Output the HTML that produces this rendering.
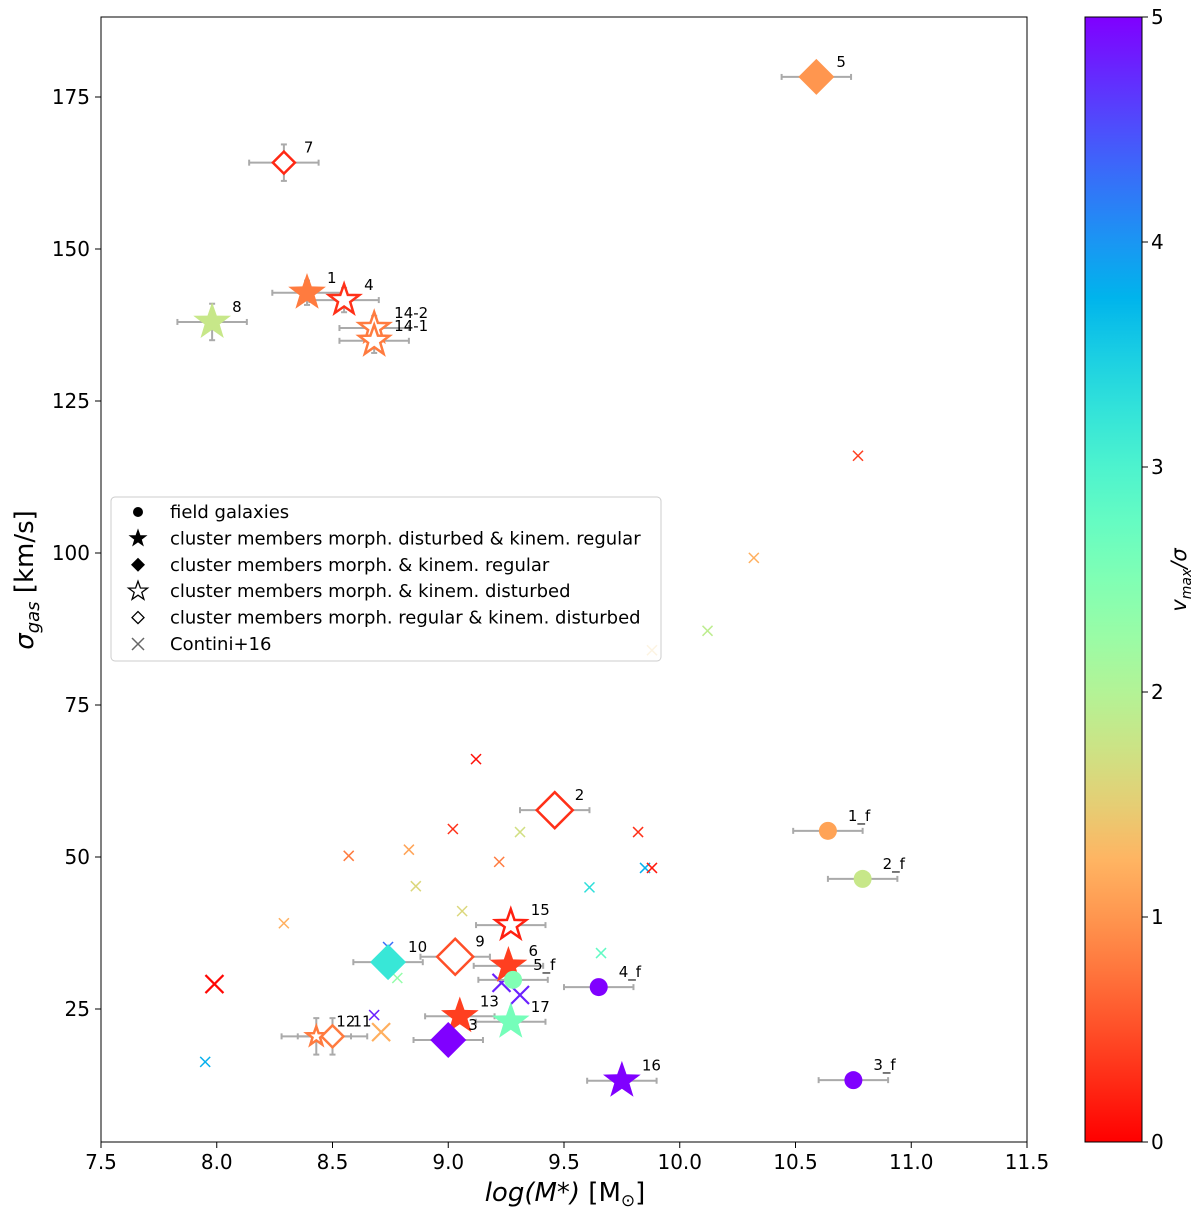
<!DOCTYPE html>
<html><head><meta charset="utf-8"><style>
body{margin:0;background:#fff;}
svg{display:block;font-family:"DejaVu Sans","Liberation Sans",sans-serif;}
</style></head><body>
<svg id="chart" width="1200" height="1217">
<rect x="0" y="0" width="1200" height="1217" fill="#fff"/>
<g id="plot"></g>
<rect x="101" y="17" width="926" height="1125" fill="none" stroke="#000" stroke-width="1"/>
<g id="axes"></g>
<text x="565" y="1201" text-anchor="middle" font-size="26" font-style="italic">log(M*)<tspan font-style="normal"> [M</tspan><tspan font-style="normal" font-size="17" dy="5">⊙</tspan><tspan font-style="normal" dy="-5">]</tspan></text>
<text transform="translate(33,580) rotate(-90)" text-anchor="middle" font-size="26"><tspan font-style="italic">σ</tspan><tspan font-size="18" dy="6" font-style="italic">gas</tspan><tspan dy="-6"> [km/s]</tspan></text>
<g id="legend">
<rect x="111" y="497" width="550" height="164" rx="4" fill="#fff" fill-opacity="0.8" stroke="#ccc"/>
</g>
<defs><linearGradient id="cb" x1="0" y1="1" x2="0" y2="0"></linearGradient></defs>
<rect x="1085" y="17" width="57" height="1125" fill="url(#cb)" stroke="#000"/>
<g id="cbticks"></g>
<text transform="translate(1186,580) rotate(-90)" text-anchor="middle" font-size="21" font-style="italic">v<tspan font-size="14" dy="5">max</tspan><tspan dy="-5">/σ</tspan></text>
</svg>
<script>
// ---- data ----
const galNames = ["5","7","1","4","14-2","14-1","8","2","15","9","10","6","5_f","4_f","13","17","3","12","11","16","1_f","2_f","3_f"];
const galX = [10.59,8.29,8.39,8.55,8.68,8.68,7.98,9.46,9.27,9.03,8.74,9.26,9.28,9.65,9.05,9.27,9.0,8.43,8.50,9.75,10.64,10.79,10.75];
const galY = [178.3,164.2,142.8,141.6,137.0,134.9,138.0,57.7,38.8,33.6,32.7,32.1,29.8,28.6,23.8,22.9,19.9,20.5,20.5,13.2,54.3,46.4,13.3];
const galV = [1.0,0.25,0.8,0.3,0.8,0.8,1.8,0.3,0.2,0.5,3.2,0.4,2.5,5,0.4,2.6,5,0.8,0.8,5,1.1,1.8,5];
const galType = ["D","d","S","s","s","s","S","d","s","d","D","S","C","C","S","S","D","s","d","S","C","C","C"];
const galSize = [18,11,18,16,16,16,18,18,16,18,18,18,9,9,18,18,18,10,11,18,9,9,9];
const galXerr = [0.15,0.15,0.15,0.15,0.15,0.15,0.15,0.15,0.15,0.15,0.15,0.15,0.15,0.15,0.15,0.15,0.15,0.15,0.15,0.15,0.15,0.15,0.15];
const galYerr = [0,3,2,2,2,2,3,0,0,0,0,0,0,0,0,0,0,3,3,0,0,0,0];
const conX = [10.77,10.32,10.12,9.88,9.12,9.02,9.31,9.82,8.57,8.83,9.22,9.61,9.85,9.88,8.86,8.29,9.06,9.66,8.78,8.74,8.68,7.99,8.71,9.23,9.31,7.95];
const conY = [116,99.2,87.2,84.0,66.1,54.6,54.1,54.1,50.2,51.2,49.2,45.0,48.2,48.2,45.2,39.1,41.1,34.2,30.1,35.2,24.0,29.1,21.2,29.3,27.3,16.3];
const conV = [0.4,1.2,1.9,1.4,0.1,0.3,1.7,0.3,0.8,1.1,0.8,3.3,3.8,0.15,1.6,1.2,1.6,2.8,2.3,4.3,4.8,0.05,1.2,4.8,4.8,3.8];
const conBig = [0,0,0,0,0,0,0,0,0,0,0,0,0,0,0,0,0,0,0,0,0,1,1,1,1,0];
const xTicks = [7.5,8.0,8.5,9.0,9.5,10.0,10.5,11.0,11.5];
const yTicks = [25,50,75,100,125,150,175];
const cbTicks = [0,1,2,3,4,5];
// ---- scales ----
const X = v => 101 + (v-7.5)*231.5;
const Y = v => 1009 - (v-25)*6.08;
const CB = v => 1142 - v*225;
function cmap(v){const t=1-Math.max(0,Math.min(1,v/5));
 const r=Math.min(1,Math.abs(2*t-0.5)),g=Math.sin(Math.PI*t),b=Math.cos(Math.PI*t/2);
 return `rgb(${Math.round(r*255)},${Math.round(g*255)},${Math.round(b*255)})`;}
const NS="http://www.w3.org/2000/svg";
function mk(tag,attrs,parent){const e=document.createElementNS(NS,tag);for(const k in attrs)e.setAttribute(k,attrs[k]);parent.appendChild(e);return e;}
function starPts(cx,cy,R){let p=[];for(let i=0;i<10;i++){const r=i%2?R*0.4:R;const a=-Math.PI/2+i*Math.PI/5;p.push((cx+r*Math.cos(a)).toFixed(1)+","+(cy+r*Math.sin(a)).toFixed(1));}return p.join(" ");}
function diaPts(cx,cy,R){return `${cx},${cy-R} ${cx+R},${cy} ${cx},${cy+R} ${cx-R},${cy}`;}
const plot=document.getElementById('plot');
// contini crosses
conX.forEach((v,i)=>{const cx=X(v),cy=Y(conY[i]),h=conBig[i]?9:5,c=cmap(conV[i]);
 const g=mk('g',{stroke:c,'stroke-width':conBig[i]?2.2:1.5},plot);
 
 
 mk('line',{x1:cx-h,y1:cy-h,x2:cx+h,y2:cy+h},g);mk('line',{x1:cx-h,y1:cy+h,x2:cx+h,y2:cy-h},g);});
// error bars
galX.forEach((v,i)=>{const g=mk('g',{stroke:'#aaa','stroke-width':2},plot);
 
 
 const cx=X(v),cy=Y(galY[i]),x1=X(v-galXerr[i]),x2=X(v+galXerr[i]);
 mk('line',{x1:x1,y1:cy,x2:x2,y2:cy},g);mk('line',{x1:x1,y1:cy-3,x2:x1,y2:cy+3},g);mk('line',{x1:x2,y1:cy-3,x2:x2,y2:cy+3},g);
 if(galYerr[i]){const y1=Y(galY[i]-galYerr[i]),y2=Y(galY[i]+galYerr[i]);
  mk('line',{x1:cx,y1:y1,x2:cx,y2:y2},g);mk('line',{x1:cx-3,y1:y1,x2:cx+3,y2:y1},g);mk('line',{x1:cx-3,y1:y2,x2:cx+3,y2:y2},g);}});
// markers
galX.forEach((v,i)=>{const cx=X(v),cy=Y(galY[i]),c=cmap(galV[i]),s=galSize[i],t=galType[i];let e;
 if(t==="C")e=mk('circle',{cx:cx,cy:cy,r:s,fill:c},plot);
 else if(t==="S")e=mk('polygon',{points:starPts(cx,cy,s*1.1),fill:c},plot);
 else if(t==="s")e=mk('polygon',{points:starPts(cx,cy,s),fill:'#fff',stroke:c,'stroke-width':2.5},plot);
 else if(t==="D")e=mk('polygon',{points:diaPts(cx,cy,s),fill:c},plot);
 else e=mk('polygon',{points:diaPts(cx,cy,s),fill:'#fff',stroke:c,'stroke-width':2.5},plot);
 
 
 const tx=mk('text',{x:cx+20,y:cy-10,'font-size':15,fill:'#000'},plot);tx.textContent=galNames[i];
 
 });
// axes
const ax=document.getElementById('axes');
xTicks.forEach(v=>{mk('line',{x1:X(v),y1:1142,x2:X(v),y2:1148,stroke:'#000'},ax);
 const t=mk('text',{x:X(v),y:1169,'font-size':20,'text-anchor':'middle'},ax);t.textContent=v.toFixed(1);
 
 });
yTicks.forEach(v=>{mk('line',{x1:95,y1:Y(v),x2:101,y2:Y(v),stroke:'#000'},ax);
 const t=mk('text',{x:90,y:Y(v)+7,'font-size':20,'text-anchor':'end'},ax);t.textContent=v;
 
 });
// colorbar
const grad=document.querySelector('linearGradient');
for(let k=0;k<=20;k++){mk('stop',{offset:(k*5)+'%','stop-color':cmap(k/4)},grad);}
const cbt=document.getElementById('cbticks');
cbTicks.forEach(v=>{mk('line',{x1:1142,y1:CB(v),x2:1148,y2:CB(v),stroke:'#000'},cbt);
 const t=mk('text',{x:1151,y:CB(v)+7,'font-size':20},cbt);t.textContent=v;
 
 });
// legend
const lg=document.getElementById('legend');
const legLabels=["field galaxies","cluster members morph. disturbed & kinem. regular","cluster members morph. & kinem. regular","cluster members morph. & kinem. disturbed","cluster members morph. regular & kinem. disturbed","Contini+16"];
legLabels.forEach((s,i)=>{const y=512+i*26.4,cx=138;
 if(i===0)mk('circle',{cx:cx,cy:y,r:5},lg);
 if(i===1)mk('polygon',{points:starPts(cx,y,10)},lg);
 if(i===2)mk('polygon',{points:diaPts(cx,y,7)},lg);
 if(i===3)mk('polygon',{points:starPts(cx,y,10),fill:'#fff',stroke:'#000','stroke-width':1.3},lg);
 if(i===4)mk('polygon',{points:diaPts(cx,y,6),fill:'#fff',stroke:'#000','stroke-width':1.3},lg);
 if(i===5){mk('line',{x1:cx-6,y1:y-6,x2:cx+6,y2:y+6,stroke:'#666','stroke-width':1.5},lg);mk('line',{x1:cx-6,y1:y+6,x2:cx+6,y2:y-6,stroke:'#666','stroke-width':1.5},lg);}
 const t=mk('text',{x:170,y:y+6,'font-size':18},lg);t.textContent=s;
 
 });
</script>
</body></html>
